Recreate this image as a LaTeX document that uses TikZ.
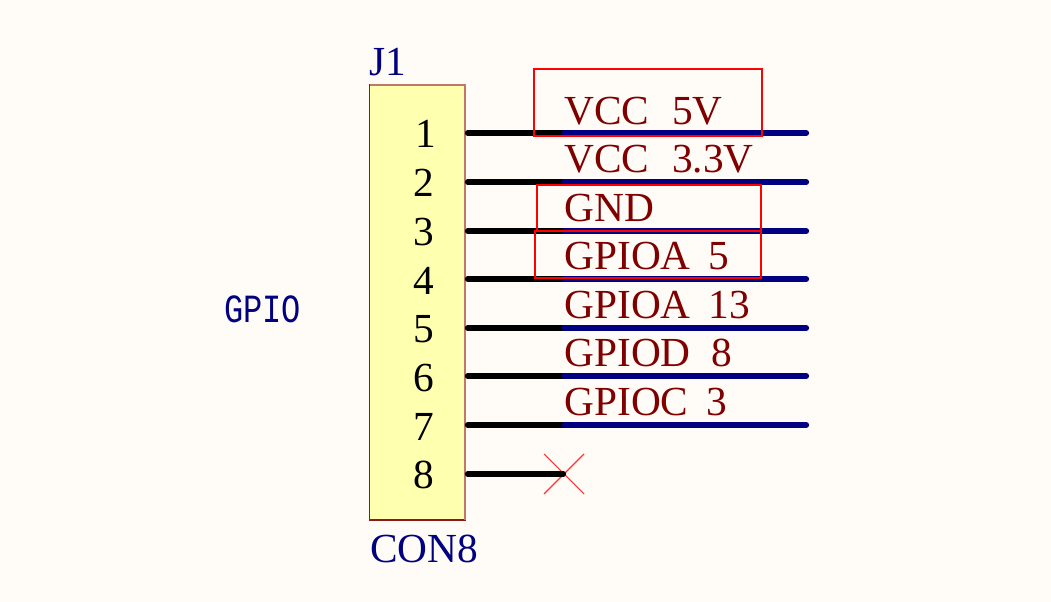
\documentclass[tikz,border=0pt]{standalone}
\usepackage{fontspec}
\setmainfont{Liberation Serif}
\newfontfamily\gpiofont{Liberation Mono}
\definecolor{bgc}{HTML}{FFFCF8}
\definecolor{bodyfill}{HTML}{FFFFB0}
\definecolor{bodyline}{HTML}{8B1A1A}
\definecolor{bodylight}{HTML}{C07868}
\definecolor{netblue}{HTML}{000080}
\definecolor{netred}{HTML}{800000}
\definecolor{boxred}{HTML}{FF0000}
\tikzset{
  x=0.75pt,y=-0.75pt,
  lbl/.style={anchor=base west,inner sep=0pt,outer sep=0pt,font=\fontsize{31pt}{32pt}\selectfont},
  netlbl/.style={lbl,text=netred},
  deslbl/.style={lbl,text=netblue},
  pinlbl/.style={anchor=base east,inner sep=0pt,outer sep=0pt,text=black,font=\fontsize{31pt}{32pt}\selectfont},
  pinwire/.style={draw=black,line width=3.9pt,line cap=round},
  netwire/.style={draw=netblue,line width=3.9pt,line cap=round},
  redbox/.style={draw=boxred,line width=1.6pt,inner sep=0pt,outer sep=0pt},
  crossmark/.style={draw=boxred!80!bgc,line width=0.8pt},
}
\begin{document}
\begin{tikzpicture}
\path[use as bounding box,fill=bgc] (0,0) rectangle (1051,602);
\node[draw=bodyline,fill=bodyfill,line width=0.8pt,inner sep=0pt,outer sep=0pt,minimum width=71.6pt,minimum height=326.25pt] (body) at (417.25,302.5) {};
\draw[draw=bodylight,line width=0.8pt] (body.north west) -- (body.north east) -- (body.south east);

\foreach \n/\y in {1/133,2/182,3/231,4/279,5/328,6/376,7/425}{
  \coordinate (a\n) at (467.5,\y);
  \coordinate (j\n) at (563.5,\y);
  \coordinate (k\n) at (564,\y);
  \coordinate (e\n) at (806.5,\y);
  \draw[pinwire] (a\n) -- (j\n);
  \draw[netwire] (k\n) -- (e\n);
}
\coordinate (x1) at (544,454);
\coordinate (x2) at (584,494);
\coordinate (x3) at (544,494);
\coordinate (x4) at (584,454);
\draw[crossmark] (x1) -- (x2);
\draw[crossmark] (x3) -- (x4);
\coordinate (a8) at (467.5,474);
\coordinate (j8) at (563.5,474);
\draw[pinwire] (a8) -- (j8);

\node[pinlbl] (pin1) at (436.5,148) {1};
\node[pinlbl] (pin2) at (434.5,197) {2};
\node[pinlbl] (pin3) at (434.5,246) {3};
\node[pinlbl] (pin4) at (434.5,295) {4};
\node[pinlbl] (pin5) at (434.5,343) {5};
\node[pinlbl] (pin6) at (434.5,392) {6};
\node[pinlbl] (pin7) at (434.5,441) {7};
\node[pinlbl] (pin8) at (434.5,489) {8};

\node[netlbl] (n1) at (564.5,125) {VCC\hspace{0.55em}5V};
\node[netlbl] (n2) at (564.5,173) {VCC\hspace{0.55em}3.3V};
\node[netlbl] (n3) at (564.5,222) {GND};
\node[netlbl] (n4) at (564.5,270) {GPIOA\hspace{0.44em}5};
\node[netlbl] (n5) at (564.5,319) {GPIOA\hspace{0.44em}13};
\node[netlbl] (n6) at (564.5,367) {GPIOD\hspace{0.5em}8};
\node[netlbl] (n7) at (564.5,416) {GPIOC\hspace{0.44em}3};

\node[deslbl] (j1) at (369,76) {J1};
\node[deslbl] (con8) at (370,562) {CON8};
\node[anchor=base west,inner sep=0pt,text=netblue] (gpio) at (224,323) {\scalebox{1}[1.25]{\gpiofont\fontsize{24pt}{25pt}\selectfont GPIO}};

\node[redbox,minimum width=171pt,minimum height=50.25pt] (r1) at (648,102.5) {};
\node[redbox,minimum width=168pt,minimum height=34.5pt] (r2) at (649,208) {};
\node[redbox,minimum width=169.5pt,minimum height=35.25pt] (r3) at (648,254.5) {};
\end{tikzpicture}
\end{document}
